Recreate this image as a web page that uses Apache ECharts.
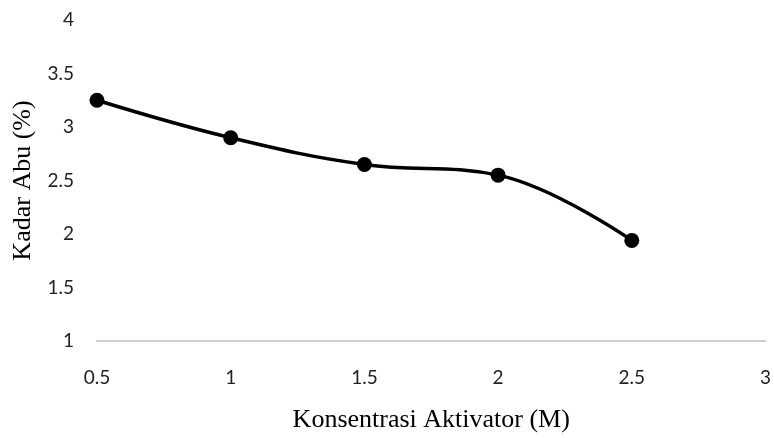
<!DOCTYPE html>
<html>
<head>
<meta charset="utf-8">
<script src="https://cdn.jsdelivr.net/npm/echarts@6/dist/echarts.min.js"></script>
<style>html,body{margin:0;padding:0;background:#fff}#c{width:774px;height:438px}</style>
</head>
<body>
<div id="c"></div>
<script>
const concentrations = [0.5, 1, 1.5, 2, 2.5];
const ashContent = [3.25, 2.9, 2.65, 2.55, 1.94];
const xTitle = 'Konsentrasi Aktivator (M)';
const yTitle = 'Kadar Abu (%)';

const chart = echarts.init(document.getElementById('c'));
chart.setOption({
  animation: false,
  backgroundColor: '#fff',
  grid: { left: 97, right: 6, top: 20, bottom: 83 },
  xAxis: {
    type: 'value', min: 0.5, max: 3, interval: 0.5,
    name: xTitle, nameLocation: 'middle', nameGap: 66,
    nameTextStyle: { fontFamily: 'Liberation Serif', fontSize: 26, color: '#000' },
    axisLine: { lineStyle: { color: '#d0d0d0', width: 2 } },
    axisTick: { show: false },
    splitLine: { show: false },
    axisLabel: { fontFamily: 'Lato', fontSize: 19, color: '#222', margin: 27 }
  },
  yAxis: {
    type: 'value', min: 1, max: 4, interval: 0.5,
    name: yTitle, nameLocation: 'middle', nameGap: 60,
    nameTextStyle: { fontFamily: 'Liberation Serif', fontSize: 26, color: '#000' },
    axisLine: { show: false },
    axisTick: { show: false },
    splitLine: { show: false },
    axisLabel: { fontFamily: 'Lato', fontSize: 19, color: '#222', margin: 23 }
  },
  series: [{
    type: 'line',
    data: concentrations.map((x, i) => [x, ashContent[i]]),
    smooth: 0.4,
    symbol: 'circle', symbolSize: 15,
    lineStyle: { color: '#000', width: 3.5 },
    itemStyle: { color: '#000' }
  }]
});
</script>
</body>
</html>
